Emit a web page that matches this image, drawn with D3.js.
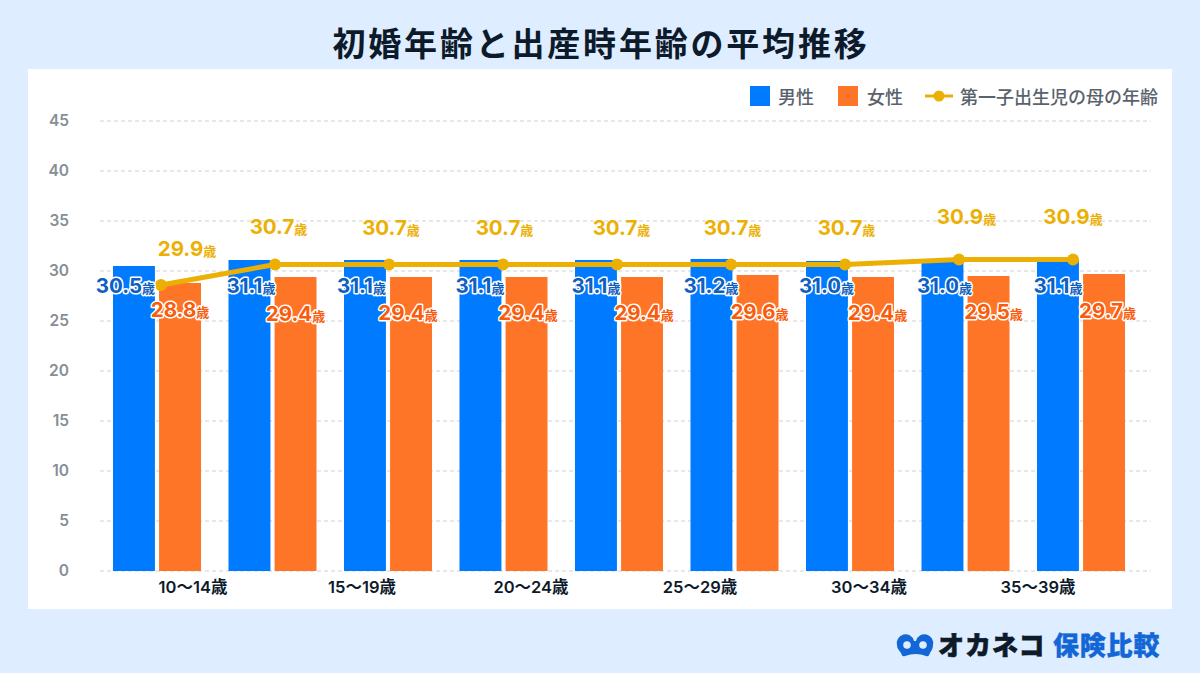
<!DOCTYPE html>
<html><head><meta charset="utf-8">
<script src="https://cdn.jsdelivr.net/npm/d3@7"></script>
<style>
html,body{margin:0;padding:0;background:#deedff}
svg{display:block}
text{font-family:Inter,"Noto Sans CJK JP",sans-serif}
</style></head><body>
<svg id="c" width="1200" height="673"></svg>
<script>
const titleText="初婚年齢と出産時年齢の平均推移";
const seriesNames=["男性","女性","第一子出生児の母の年齢"];
const groups=["g1","g2","g3","g4","g5","g6","g7","g8","g9"];
const tickLabels=["10〜14歳","15〜19歳","20〜24歳","25〜29歳","30〜34歳","35〜39歳"];
const yTicks=[0,5,10,15,20,25,30,35,40,45];
const male=[30.5,31.1,31.1,31.1,31.1,31.2,31.0,31.0,31.1];
const female=[28.8,29.4,29.4,29.4,29.4,29.6,29.4,29.5,29.7];
const mother=[28.55,30.6,30.6,30.6,30.6,30.6,30.6,31.1,31.1];
const motherLabels=[29.9,30.7,30.7,30.7,30.7,30.7,30.7,30.9,30.9];
const logoA="オカネコ", logoB="保険比較";
const C={bg:"#deedff",blue:"#007bff",orange:"#ff7527",gold:"#ecb004",blueT:"#0f5fc0",orangeT:"#f85c0c",grid:"#dfe1e4",axis:"#868e96",dark:"#0d1a2a",leg:"#5a626b"};

const svg=d3.select("#c");
svg.append("rect").attr("x",28).attr("y",69).attr("width",1144).attr("height",540).attr("fill","#fff");
svg.append("text").attr("x",601).attr("y",55.500).attr("text-anchor","middle").attr("font-size",33).attr("font-weight",700).attr("letter-spacing",2.8).attr("fill",C.dark).text(titleText);

const y=d3.scaleLinear().domain([0,45]).range([571,121]);
const x=d3.scaleBand().domain(groups).range([99.5,1139]).paddingInner(0);
const x2=d3.scaleBand().domain(["m","f"]).range([13.5,101.5]).paddingInner(0.09).paddingOuter(0);
const xLine=d3.scalePoint().domain(groups).range([161,1073]);
const xTick=d3.scaleBand().domain(tickLabels).range([108.5,1122.5]);

// grid & y axis
const gy=svg.append("g").attr("transform","translate(100,-0.5)").call(d3.axisLeft(y).tickValues(yTicks).tickSize(-1051).tickPadding(31));
gy.select(".domain").remove();
gy.selectAll("line").attr("stroke",C.grid).attr("stroke-width",1.3).attr("stroke-dasharray","4 3");
gy.selectAll("text").attr("font-size",15.5).attr("font-weight",600).attr("fill",C.axis).style("font-family","Inter").attr("text-anchor","end").attr("transform","translate(0,0.5)");

// bars
const barG=svg.append("g");
[[male,"m",C.blue],[female,"f",C.orange]].forEach(([arr,k,col])=>{
  barG.selectAll(".b"+k).data(arr).join("rect")
    .attr("x",(d,i)=>x(groups[i])+x2(k)).attr("width",x2.bandwidth())
    .attr("y",d=>y(d)).attr("height",d=>y(0)-y(d)).attr("fill",col);
});

// line
const line=d3.line().x((d,i)=>xLine(groups[i])).y(d=>y(d)-0.5);
svg.append("path").datum(mother).attr("d",line).attr("fill","none").attr("stroke",C.gold).attr("stroke-width",5);
svg.selectAll(".pt").data(mother).join("circle").attr("cx",(d,i)=>xLine(groups[i])).attr("cy",d=>y(d)-0.5).attr("r",6).attr("fill",C.gold);

// x tick labels
const gx=svg.append("g").attr("transform","translate(0,570.5)").call(d3.axisBottom(xTick).tickSize(0).tickPadding(11));
gx.select(".domain").remove();
gx.selectAll("text").attr("font-size",16.5).attr("font-weight",600).attr("fill",C.dark);

// hand-placed value label offsets (px from the mark's anchor)
const maleDx=[-8.5,1.5,-3.5,-0.5,0,-0.5,-0.5,2,0];
const femaleDx=[0,0,-3,1.5,2,2,4.500,5,3.500];
const femaleBase=[317,321,320,320,320,319,320,319,318];
const motherDx=[26,3.500,2,1.5,4.500,1.500,1.500,7.500,0];
const motherBase=[256,234,235,235,235,235,235,224,224];
function valLabel(px,py,val,col,halo){
  const t=svg.append("text").attr("x",px).attr("y",py).attr("text-anchor","middle").attr("fill",col);
  if(halo){t.attr("stroke","#fff").attr("stroke-width",3).attr("paint-order","stroke").attr("stroke-linejoin","round");}
  t.append("tspan").attr("font-size",20.5).attr("font-weight",700).text(val.toFixed(1));
  t.append("tspan").attr("font-size",13).attr("font-weight",700).text("歳");
}
male.forEach((d,i)=>valLabel(x(groups[i])+x2("m")+x2.bandwidth()/2+maleDx[i],293,d,C.blueT,true));
female.forEach((d,i)=>valLabel(x(groups[i])+x2("f")+x2.bandwidth()/2+femaleDx[i],femaleBase[i],d,C.orangeT,true));
motherLabels.forEach((d,i)=>valLabel(xLine(groups[i])+motherDx[i],motherBase[i],d,C.gold,false));

// legend
const lg=svg.append("g");
lg.append("rect").attr("x",750).attr("y",86).attr("width",20).attr("height",20).attr("fill",C.blue);
lg.append("rect").attr("x",838).attr("y",86).attr("width",20).attr("height",20).attr("fill",C.orange);
lg.append("line").attr("x1",925).attr("x2",953).attr("y1",96).attr("y2",96).attr("stroke",C.gold).attr("stroke-width",3);
lg.append("circle").attr("cx",939).attr("cy",96).attr("r",5.5).attr("fill",C.gold);
[[778,seriesNames[0]],[867,seriesNames[1]],[960,seriesNames[2]]].forEach(([px,s])=>{
  lg.append("text").attr("x",px).attr("y",103.5).attr("font-size",18).attr("fill",C.leg).attr("font-weight",500).text(s);
});

// logo
const lo=svg.append("g");
lo.append("path").attr("d","M897 645a8.500 8.500 0 0 1 17-4h2a8.500 8.500 0 0 1 17 4c0 4-2 6-3 8-1 2-1 4-4 3q-10-4-21 0c-3 1-3-1-4-3-1-2-4-4-4-8z").attr("fill","#1266d6");
[907,923].forEach(cx=>lo.append("circle").attr("cx",cx).attr("cy",645).attr("r",3.8).attr("fill",C.bg));
lo.append("text").attr("x",938).attr("y",655).attr("font-size",26).attr("font-weight",900).attr("stroke",C.dark).attr("stroke-width",0.6).attr("letter-spacing",1).attr("fill",C.dark).text(logoA);
lo.append("text").attr("x",1053).attr("y",655).attr("font-size",26).attr("font-weight",900).attr("stroke","#1266d6").attr("stroke-width",0.4).attr("letter-spacing",0.8).attr("fill","#1266d6").text(logoB);
</script>
</body></html>
